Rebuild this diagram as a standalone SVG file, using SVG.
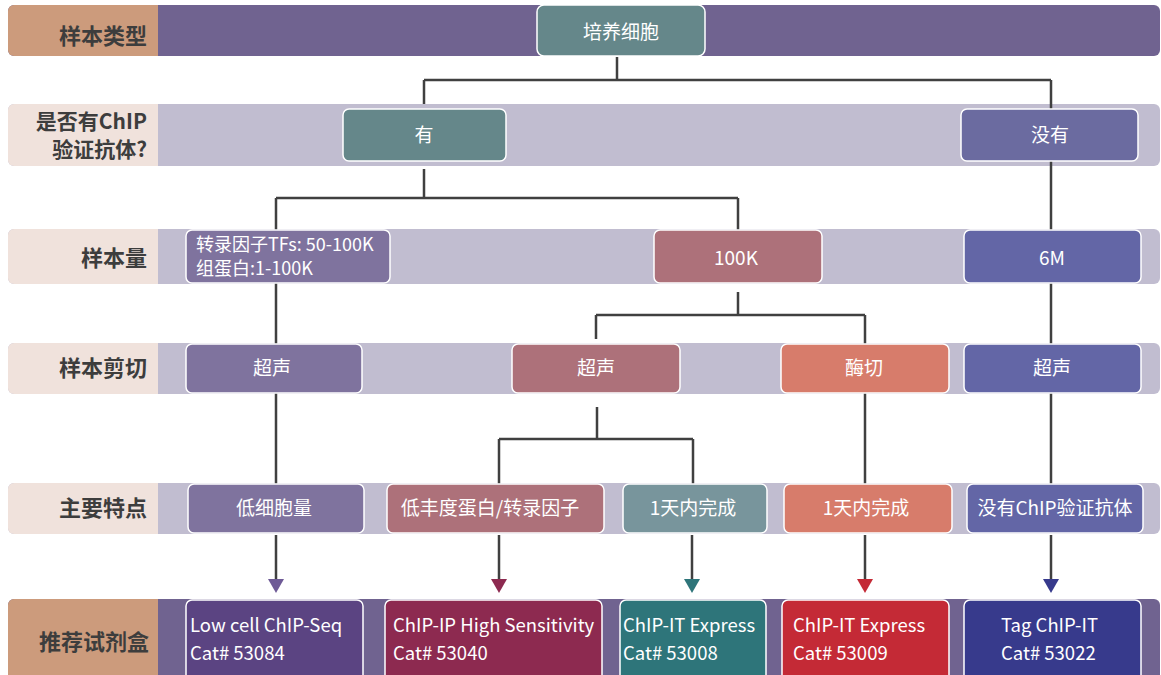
<svg xmlns="http://www.w3.org/2000/svg" width="1161" height="675" viewBox="0 0 1161 675">
<style>
.lbl{font-family:"Noto Sans CJK SC","Noto Sans",sans-serif;font-size:22px;font-weight:bold;fill:#3d3d3d;text-anchor:end}
.lb2{font-size:21px}
.nt{font-family:"Noto Sans CJK SC","Noto Sans",sans-serif;font-size:19px;fill:#ffffff;text-anchor:middle}
.kt{font-family:"Noto Sans CJK SC","Noto Sans",sans-serif;font-size:18.5px;fill:#ffffff}
.st{font-family:"Noto Sans CJK SC","Noto Sans",sans-serif;font-size:18px;fill:#ffffff}
.nd{stroke:#ffffff;stroke-width:1.5}
.cn{fill:none;stroke:#404040;stroke-width:2.5}
.bl{fill:#c1bdd0}
.bd{fill:#706390}
.ll{fill:#f0e2dc}
.ld{fill:#cc9b7c}
</style>
<g id="rows">
  <rect class="bd" x="8" y="5" width="1152" height="51" rx="6"/>
  <path class="ld" d="M14 5H158V56H14A6 6 0 0 1 8 50V11A6 6 0 0 1 14 5Z"/>
  <text class="lbl" x="147" y="44">样本类型</text>

  <rect class="bl" x="8" y="104" width="1152" height="62" rx="6"/>
  <path class="ll" d="M14 104H158V166H14A6 6 0 0 1 8 160V110A6 6 0 0 1 14 104Z"/>
  <text class="lbl lb2" x="147" y="129">是否有ChIP</text>
  <text class="lbl lb2" x="147" y="157">验证抗体?</text>

  <rect class="bl" x="8" y="229" width="1152" height="55" rx="6"/>
  <path class="ll" d="M14 229H158V284H14A6 6 0 0 1 8 278V235A6 6 0 0 1 14 229Z"/>
  <text class="lbl" x="147" y="266">样本量</text>

  <rect class="bl" x="8" y="343" width="1152" height="51" rx="6"/>
  <path class="ll" d="M14 343H158V394H14A6 6 0 0 1 8 388V349A6 6 0 0 1 14 343Z"/>
  <text class="lbl" x="147" y="376">样本剪切</text>

  <rect class="bl" x="8" y="483" width="1152" height="51" rx="6"/>
  <path class="ll" d="M14 483H158V534H14A6 6 0 0 1 8 528V489A6 6 0 0 1 14 483Z"/>
  <text class="lbl" x="147" y="516">主要特点</text>

  <rect class="bd" x="8" y="599" width="1152" height="84" rx="6"/>
  <path class="ld" d="M14 599H158V683H14A6 6 0 0 1 8 677V605A6 6 0 0 1 14 599Z"/>
  <text class="lbl" x="149" y="650">推荐试剂盒</text>
</g>
<g id="connectors">
  <path class="cn" d="M617 57V80M424 80H1051M424 80V104M1051 80V109"/>
  <path class="cn" d="M1051 161V230"/>
  <path class="cn" d="M424 169V198M276 198H738M276 198V230M738 198V230"/>
  <path class="cn" d="M276 283V344M1051 283V344"/>
  <path class="cn" d="M738 292V315M596 315H865M596 315V339M865 315V344"/>
  <path class="cn" d="M276 393V484M865 393V484M1051 393V484"/>
  <path class="cn" d="M597 407V439M499 439H693M499 439V484M693 439V484"/>
  <path class="cn" d="M276 535V580M499 535V580M692 535V580M865 535V580M1051 535V580"/>
  <path d="M268 579H284L276 593Z" fill="#6e5a96"/>
  <path d="M491 579H507L499 593Z" fill="#8d2a50"/>
  <path d="M684 579H700L692 593Z" fill="#2e757a"/>
  <path d="M857 579H873L865 593Z" fill="#c42a36"/>
  <path d="M1043 579H1059L1051 593Z" fill="#373a8c"/>
</g>
<g id="n-culture"><rect class="nd" x="537" y="5" width="168" height="51" rx="7" fill="#65878a"/><text class="nt" x="621" y="39">培养细胞</text></g>
<g id="n-yes"><rect class="nd" x="343" y="109" width="163" height="52" rx="6" fill="#65878a"/><text class="nt" x="424" y="142">有</text></g>
<g id="n-no"><rect class="nd" x="961" y="109" width="177" height="52" rx="6" fill="#6b6ba0"/><text class="nt" x="1050" y="142">没有</text></g>
<g id="n-amt1"><rect class="nd" x="186" y="230" width="204" height="53" rx="6" fill="#7f739e"/><text class="st" x="196" y="251">转录因子TFs: 50-100K</text><text class="st" x="196" y="275">组蛋白:1-100K</text></g>
<g id="n-amt2"><rect class="nd" x="654" y="230" width="168" height="53" rx="6" fill="#ad717a"/><text class="nt" x="736" y="265">100K</text></g>
<g id="n-amt3"><rect class="nd" x="964" y="230" width="177" height="53" rx="6" fill="#6366a6"/><text class="nt" x="1052" y="265">6M</text></g>
<g id="n-shear1"><rect class="nd" x="186" y="344" width="176" height="49" rx="6" fill="#7f739e"/><text class="nt" x="272" y="375">超声</text></g>
<g id="n-shear2"><rect class="nd" x="512" y="344" width="168" height="49" rx="6" fill="#ad717a"/><text class="nt" x="596" y="375">超声</text></g>
<g id="n-shear3"><rect class="nd" x="781" y="344" width="168" height="49" rx="6" fill="#d77c6b"/><text class="nt" x="864" y="375">酶切</text></g>
<g id="n-shear4"><rect class="nd" x="964" y="344" width="177" height="49" rx="6" fill="#6366a6"/><text class="nt" x="1052" y="375">超声</text></g>
<g id="n-feat1"><rect class="nd" x="188" y="484" width="176" height="49" rx="6" fill="#7f739e"/><text class="nt" x="274" y="515">低细胞量</text></g>
<g id="n-feat2"><rect class="nd" x="387" y="484" width="217" height="49" rx="6" fill="#ad717a"/><text class="nt" x="490" y="515">低丰度蛋白/转录因子</text></g>
<g id="n-feat3"><rect class="nd" x="623" y="484" width="144" height="49" rx="6" fill="#78959c"/><text class="nt" x="693" y="515">1天内完成</text></g>
<g id="n-feat4"><rect class="nd" x="784" y="484" width="168" height="49" rx="6" fill="#d77c6b"/><text class="nt" x="866" y="515">1天内完成</text></g>
<g id="n-feat5"><rect class="nd" x="967" y="484" width="176" height="49" rx="6" fill="#6366a6"/><text class="nt" x="1055" y="515">没有ChIP验证抗体</text></g>
<g id="k1"><rect class="nd" x="186" y="600" width="177" height="82" rx="6" fill="#5b4482"/><text class="kt" x="190" y="632">Low cell ChIP-Seq</text><text class="kt" x="190" y="660">Cat# 53084</text></g>
<g id="k2"><rect class="nd" x="385" y="600" width="217" height="82" rx="6" fill="#8d2a50"/><text class="kt" x="393" y="632">ChIP-IP High Sensitivity</text><text class="kt" x="393" y="660">Cat# 53040</text></g>
<g id="k3"><rect class="nd" x="620" y="600" width="146" height="82" rx="6" fill="#2e757a"/><text class="kt" x="623" y="632">ChIP-IT Express</text><text class="kt" x="623" y="660">Cat# 53008</text></g>
<g id="k4"><rect class="nd" x="782" y="600" width="167" height="82" rx="6" fill="#c42a36"/><text class="kt" x="793" y="632">ChIP-IT Express</text><text class="kt" x="793" y="660">Cat# 53009</text></g>
<g id="k5"><rect class="nd" x="964" y="600" width="177" height="82" rx="6" fill="#373a8c"/><text class="kt" x="1001" y="632">Tag ChIP-IT</text><text class="kt" x="1001" y="660">Cat# 53022</text></g>
</svg>
